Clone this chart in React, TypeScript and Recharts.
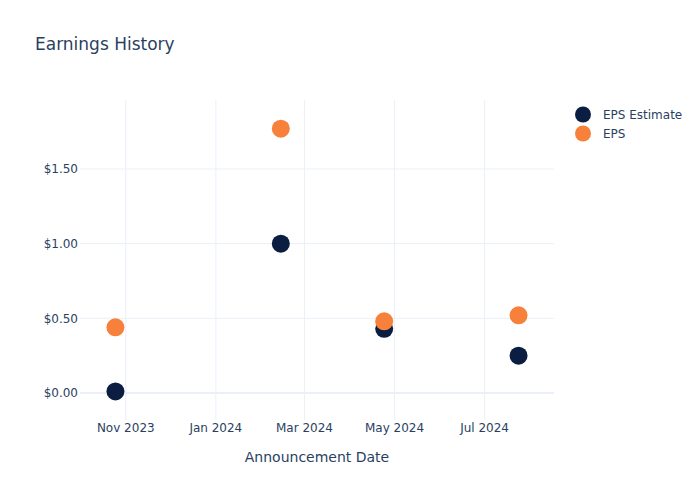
import {
  ScatterChart, Scatter, XAxis, YAxis, CartesianGrid, ReferenceLine,
} from "recharts";

const announceDates = ["2023-10-25", "2024-02-14", "2024-04-24", "2024-07-24"];
const epsEstimate = [0.01, 1.0, 0.43, 0.25];
const epsActual = [0.44, 1.77, 0.48, 0.52];

const xTickDates = ["2023-11-01", "2024-01-01", "2024-03-01", "2024-05-01", "2024-07-01"];
const xTickLabels = ["Nov 2023", "Jan 2024", "Mar 2024", "May 2024", "Jul 2024"];
const yTicks = [0, 0.5, 1, 1.5];
const seriesNames = ["EPS Estimate", "EPS"];

const NAVY = "#0b1d40";
const ORANGE = "#f7803a";
const TEXT = "#2a3f5f";
const GRID = "#ebf0f8";
const FONT = "'DejaVu Sans', Verdana, sans-serif";

const ts = (d: string) => Date.parse(d + "T00:00:00Z");

const estimateData = announceDates.map((d, i) => ({ x: ts(d), y: epsEstimate[i] }));
const epsData = announceDates.map((d, i) => ({ x: ts(d), y: epsActual[i] }));
const xTicks = xTickDates.map(ts);
const colors = [NAVY, ORANGE];

const Dot = (color: string) => (props: any) => (
  <circle cx={props.cx} cy={props.cy} r={9} fill={color} />
);

const LegendBox = () => (
  <div style={{ position: "absolute", left: 573, top: 105, fontFamily: FONT, fontSize: 12, color: TEXT }}>
    {seriesNames.map((name, i) => (
      <div key={name} style={{ display: "flex", alignItems: "center", height: 19 }}>
        <svg width={20} height={19}>
          <circle cx={10} cy={9.5} r={8} fill={colors[i]} />
        </svg>
        <span style={{ marginLeft: 10 }}>{name}</span>
      </div>
    ))}
  </div>
);

export default function App() {
  return (
    <div style={{ position: "absolute", left: 0, top: 0, width: 700, height: 500, background: "#fff" }}>
      <div style={{ position: "absolute", left: 35, top: 34, fontFamily: FONT, fontSize: 17, color: TEXT }}>
        Earnings History
      </div>
      <ScatterChart width={700} height={500} margin={{ top: 100, right: 146, bottom: 38, left: 20 }}>
        <CartesianGrid stroke={GRID} verticalValues={xTicks} horizontalValues={yTicks} />
        <XAxis
          type="number"
          dataKey="x"
          domain={[ts("2023-10-01"), ts("2024-08-17")]}
          ticks={xTicks}
          tickFormatter={(v: number) => xTickLabels[xTicks.indexOf(v)] ?? ""}
          axisLine={false}
          tickLine={false}
          tickSize={0}
          tickMargin={3}
          height={42}
          allowDataOverflow
          tick={{ fill: TEXT, fontSize: 12, fontFamily: FONT }}
          label={{ value: "Announcement Date", position: "insideBottom", offset: 0, fill: TEXT, fontSize: 14, fontFamily: FONT }}
        />
        <YAxis
          type="number"
          dataKey="y"
          domain={[-0.181, 1.962]}
          ticks={yTicks}
          tickFormatter={(v: number) => `$${v.toFixed(2)}`}
          axisLine={false}
          tickLine={false}
          tickSize={0}
          tickMargin={2}
          width={60}
          allowDataOverflow
          tick={{ fill: TEXT, fontSize: 12, fontFamily: FONT }}
        />
        <ReferenceLine y={0} stroke={GRID} strokeWidth={2} />
        <Scatter name={seriesNames[0]} data={estimateData} fill={NAVY} shape={Dot(NAVY)} isAnimationActive={false} />
        <Scatter name={seriesNames[1]} data={epsData} fill={ORANGE} shape={Dot(ORANGE)} isAnimationActive={false} />
      </ScatterChart>
      <LegendBox />
    </div>
  );
}
